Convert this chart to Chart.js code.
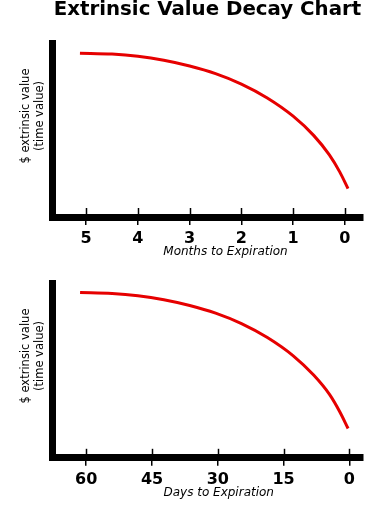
<!DOCTYPE html>
<html>
<head>
<meta charset="utf-8">
<title>Extrinsic Value Decay Chart</title>
<script src="https://cdn.jsdelivr.net/npm/chart.js@4/dist/chart.umd.min.js"></script>
<style>
  body { margin: 0; background: #fff; width: 372px; height: 527px; position: relative; overflow: hidden; }
  canvas { position: absolute; left: 0; }
  #monthsCanvas { top: 0; }
  #daysCanvas { top: 262px; }
</style>
</head>
<body>
<canvas id="monthsCanvas" width="372" height="262"></canvas>
<canvas id="daysCanvas" width="372" height="265"></canvas>
<script>
// Values (time value, 0-100 of the plot height)
const monthsLeft = [5.12, 4.5, 4, 3.5, 3, 2.5, 2, 1.5, 1, 0.6, 0.3, 0.1, -0.06];
const monthValue = [94.4, 93.9, 92.6, 90.3, 87.0, 82.6, 76.6, 68.6, 58.1, 46.9, 35.8, 26.0, 16.4];
const monthTicks = [5, 4, 3, 2, 1, 0];

const daysLeft = [61.4, 54.1, 48.2, 42.3, 36.4, 30.5, 24.6, 18.7, 12.8, 8.1, 4.5, 2.2, 0.3];
const dayValue = [94.8, 94.3, 93.0, 90.7, 87.4, 83.0, 77.0, 69.0, 58.5, 47.3, 36.2, 26.4, 16.8];
const dayTicks = [60, 45, 30, 15, 0];

const yTitle = ['$ extrinsic value', '(time value)'];

// draws the axis titles and the bit of each tick mark above the axis line
const decor = {
  id: 'decor',
  afterDraw(chart, args, opts) {
    const ctx = chart.ctx;
    const area = chart.chartArea;
    const xs = chart.scales.x;
    ctx.save();
    ctx.strokeStyle = '#000';
    ctx.lineWidth = 1.5;
    xs.ticks.forEach(t => {
      const px = Math.round(xs.getPixelForValue(t.value)) + 0.5;
      ctx.beginPath();
      ctx.moveTo(px, area.bottom - 9);
      ctx.lineTo(px, area.bottom - 3);
      ctx.stroke();
    });

    ctx.fillStyle = '#000';
    ctx.textAlign = 'center';
    ctx.textBaseline = 'middle';
    ctx.font = 'oblique 12px "DejaVu Sans"';
    ctx.fillText(opts.xTitle, opts.xTitleX, area.bottom + 35);

    ctx.font = '11.5px "DejaVu Sans"';
    const cy = area.top + 72.5;
    [26, 40.5].forEach((x, i) => {
      ctx.save();
      ctx.translate(x, cy);
      ctx.rotate(-Math.PI / 2);
      ctx.fillText(yTitle[i], 0, 0);
      ctx.restore();
    });
    ctx.restore();
  }
};

function makeChart(id, xs, ys, tickList, min, max, axisHeight, padTop, xTitle, xTitleX, showTitle) {
  const points = xs.map((x, i) => ({ x: x, y: ys[i] }));
  return new Chart(document.getElementById(id), {
    type: 'line',
    data: {
      datasets: [{
        data: points,
        borderColor: '#e60000',
        borderWidth: 3,
        pointRadius: 0,
        cubicInterpolationMode: 'monotone',
        fill: false
      }]
    },
    options: {
      responsive: false,
      devicePixelRatio: 1,
      animation: false,
      events: [],
      layout: { padding: { top: padTop, left: 52, right: 9, bottom: 0 } },
      plugins: {
        legend: { display: false },
        tooltip: { enabled: false },
        title: {
          display: showTitle,
          text: 'Extrinsic Value Decay Chart',
          color: '#000',
          font: { family: 'DejaVu Sans', weight: 'bold', size: 19.8, lineHeight: 1 },
          padding: { top: 0, bottom: 23.7 }
        },
        decor: { xTitle: xTitle, xTitleX: xTitleX }
      },
      scales: {
        x: {
          type: 'linear',
          reverse: true,
          min: min,
          max: max,
          afterBuildTicks: s => { s.ticks = tickList.map(v => ({ value: v })); },
          afterFit: s => { s.height = axisHeight; },
          border: { display: true, color: '#000', width: 7 },
          grid: { drawOnChartArea: false, drawTicks: true, tickLength: 8, tickWidth: 1.5, tickColor: '#000', lineWidth: 1.5, color: '#000' },
          ticks: {
            color: '#000',
            padding: 4,
            autoSkip: false,
            maxRotation: 0,
            font: { family: 'DejaVu Sans', weight: 'bold', size: 16 },
            callback: v => String(v)
          }
        },
        y: {
          min: 0,
          max: 100,
          afterFit: s => { s.width = 0; },
          border: { display: true, color: '#000', width: 7 },
          grid: { display: false },
          ticks: { display: false }
        }
      }
    },
    plugins: [decor]
  });
}

makeChart('monthsCanvas', monthsLeft, monthValue, monthTicks, -0.35, 5.66, 45, 0, 'Months to Expiration', 225.5, true);
makeChart('daysCanvas', daysLeft, dayValue, dayTicks, -3.1, 67.8, 69.2, 21.5, 'Days to Expiration', 218.7, false);
</script>
</body>
</html>
